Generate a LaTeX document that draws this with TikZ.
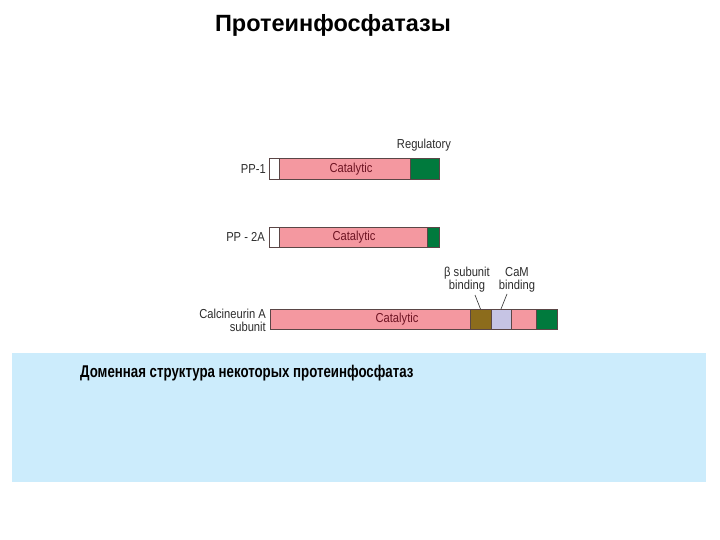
\documentclass[tikz,border=0pt]{standalone}
\usepackage{fontspec}
\setmainfont{Liberation Sans}
\newfontfamily\narrowsans[FakeStretch=0.86]{Liberation Sans}
\newfontfamily\narrowbold[FakeStretch=0.78]{Liberation Sans Bold}
\definecolor{pinkseg}{RGB}{244,152,160}
\definecolor{greenseg}{RGB}{0,122,61}
\definecolor{oliveseg}{RGB}{140,108,28}
\definecolor{lavseg}{RGB}{198,196,228}
\definecolor{barline}{RGB}{90,70,70}
\definecolor{catred}{RGB}{110,20,35}
\definecolor{labelgray}{RGB}{45,45,45}
\definecolor{boxblue}{RGB}{204,236,252}
\begin{document}
\begin{tikzpicture}[x=1pt,y=-1pt,
  segment/.style={draw=barline, line width=0.5pt, inner sep=0pt, outer sep=0pt, anchor=north west},
  lbl/.style={font=\narrowsans\fontsize{13}{13}\selectfont, text=labelgray, inner sep=0pt},
  cat/.style={font=\narrowsans\fontsize{13}{14}\selectfont, text=catred, inner sep=0pt},
  leader/.style={draw=labelgray, line width=0.6pt}]
\useasboundingbox (0,0) rectangle (720,540);
\fill[white] (0,0) rectangle (720,540);
% title
\node[font=\bfseries\fontsize{23.5}{28}\selectfont, inner sep=0pt] (title) at (333,25) {Протеинфосфатазы};
% PP-1
\node[segment, fill=white, minimum width=10pt, minimum height=21pt] (p1a) at (269,158) {};
\node[segment, fill=pinkseg, minimum width=131pt, minimum height=21pt] (p1b) at (279,158) {};
\node[segment, fill=greenseg, minimum width=29pt, minimum height=21pt] (p1c) at (410,158) {};
\node[cat] (p1cat) at (351,169) {Catalytic};
\node[lbl, anchor=east] (p1lbl) at (266,169) {PP-1};
\node[lbl] (reglbl) at (424,145) {Regulatory};
% PP-2A
\node[segment, fill=white, minimum width=10pt, minimum height=20pt] (p2a) at (269,227) {};
\node[segment, fill=pinkseg, minimum width=148pt, minimum height=20pt] (p2b) at (279,227) {};
\node[segment, fill=greenseg, minimum width=12pt, minimum height=20pt] (p2c) at (427,227) {};
\node[cat] (p2cat) at (354,237) {Catalytic};
\node[lbl, anchor=east] (p2lbl) at (265,237) {PP - 2A};
% Calcineurin
\node[segment, fill=pinkseg, minimum width=200pt, minimum height=20pt] (c1) at (270,309) {};
\node[segment, fill=oliveseg, minimum width=21pt, minimum height=20pt] (c2) at (470,309) {};
\node[segment, fill=lavseg, minimum width=20pt, minimum height=20pt] (c3) at (491,309) {};
\node[segment, fill=pinkseg, minimum width=25pt, minimum height=20pt] (c4) at (511,309) {};
\node[segment, fill=greenseg, minimum width=21pt, minimum height=20pt] (c5) at (536,309) {};
\node[cat] (ccat) at (397,319) {Catalytic};
\node[lbl, anchor=east, align=right] (clbl) at (266,320) {Calcineurin A\\subunit};
\node[lbl, align=center] (blbl) at (467,280) {β subunit\\binding};
\node[lbl, align=center] (camlbl) at (517,280) {CaM\\binding};
\coordinate (bq) at (475,295);
\coordinate (cq) at (507,294);
\draw[leader] (bq) -- (c2.north);
\draw[leader] (cq) -- (c3.north);
% caption box
\fill[boxblue] (12,353) rectangle (706,482);
\node[font=\narrowbold\fontsize{17}{20}\selectfont, anchor=west, inner sep=0pt] (cap) at (80,373) {Доменная структура некоторых протеинфосфатаз};
\end{tikzpicture}
\end{document}
